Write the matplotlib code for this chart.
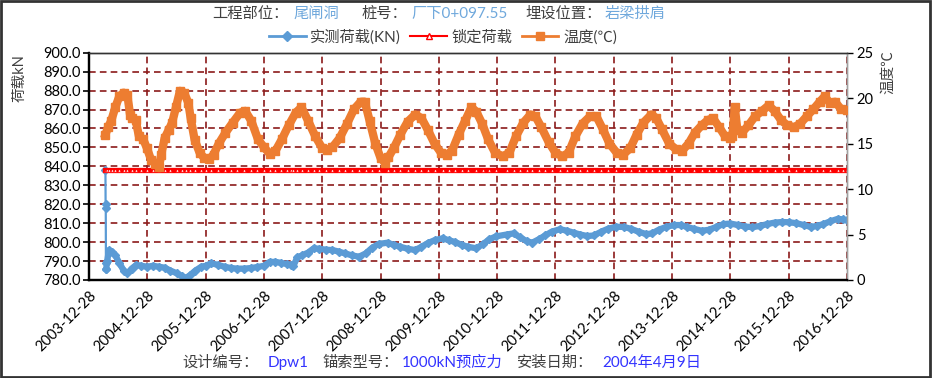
import matplotlib
matplotlib.use("Agg")
import matplotlib.pyplot as plt
import matplotlib.dates as mdates
from matplotlib.lines import Line2D
from matplotlib.patches import Rectangle
from matplotlib.ticker import FormatStrFormatter, MultipleLocator
import numpy as np
import pandas as pd

# measured load (kN)
load_dates = [
    "2004-04-09", "2004-04-10", "2004-04-11", "2004-04-12", "2004-04-14", "2004-04-20",
    "2004-05-01", "2004-05-20", "2004-06-10", "2004-07-05", "2004-08-01", "2004-08-25",
    "2004-09-20", "2004-10-20", "2004-11-20", "2004-12-28", "2005-02-01", "2005-03-10",
    "2005-04-15", "2005-05-20", "2005-07-01", "2005-08-01", "2005-08-25", "2005-09-20",
    "2005-10-25", "2005-12-01", "2005-12-28", "2006-02-01", "2006-03-15", "2006-04-25",
    "2006-06-05", "2006-07-15", "2006-08-25", "2006-10-05", "2006-11-15", "2006-12-28",
    "2007-02-01", "2007-03-10", "2007-04-15", "2007-05-20", "2007-06-15", "2007-07-01",
    "2007-07-25", "2007-08-25", "2007-10-01", "2007-11-05", "2007-12-10", "2008-01-20",
    "2008-03-01", "2008-04-10", "2008-05-20", "2008-07-01", "2008-08-15", "2008-09-25",
    "2008-11-05", "2008-12-15", "2009-02-10", "2009-03-20", "2009-05-01", "2009-06-15",
    "2009-08-01", "2009-09-10", "2009-10-20", "2009-12-01", "2010-01-20", "2010-03-01",
    "2010-04-10", "2010-05-20", "2010-07-01", "2010-08-20", "2010-10-01", "2010-11-10",
    "2010-12-20", "2011-02-25", "2011-04-10", "2011-05-20", "2011-07-01", "2011-08-05",
    "2011-09-15", "2011-10-25", "2011-12-05", "2012-01-25", "2012-03-10", "2012-04-20",
    "2012-06-01", "2012-07-15", "2012-08-25", "2012-10-10", "2012-11-20", "2013-01-10",
    "2013-03-01", "2013-04-15", "2013-06-01", "2013-07-20", "2013-08-25", "2013-10-05",
    "2013-11-20", "2014-01-10", "2014-02-20", "2014-04-01", "2014-05-15", "2014-07-01",
    "2014-08-15", "2014-10-01", "2014-11-15", "2014-12-28", "2015-02-15", "2015-04-01",
    "2015-05-15", "2015-07-01", "2015-08-15", "2015-10-01", "2015-11-15", "2015-12-28",
    "2016-02-15", "2016-04-01", "2016-05-15", "2016-06-20", "2016-08-01", "2016-09-15",
    "2016-11-01", "2016-12-01", "2016-12-28",
]
load_kn = [
    838, 820, 818, 789, 786, 790,
    795.8, 795, 793, 789, 785, 783.5,
    786, 788, 787.5, 787, 787.5, 787,
    786.5, 785, 783.5, 782, 781, 782.5,
    785, 787, 787.5, 788.8, 788, 787,
    786.3, 786, 786, 786.3, 786.8, 787.5,
    789.5, 789.6, 789, 788.5, 788, 787.5,
    792, 793, 794.5, 796.7, 796.5, 796,
    795.8, 795, 794, 793, 792.3, 794,
    797, 799, 799.7, 798.5, 797.5, 796.5,
    795.8, 797.5, 799.5, 801, 802, 801,
    800, 798.5, 797.5, 796.7, 799, 801.5,
    803, 804, 804.6, 802.5, 800.5, 799.7,
    801.5, 803.5, 805.5, 806.8, 806, 805,
    804, 803.2, 803.5, 805.5, 807, 808.1,
    808, 807, 805.5, 804.2, 804.6, 806.5,
    808, 809, 809, 808, 807, 806,
    806.5, 808, 809.5, 809.8, 809, 808.2,
    807.9, 808.5, 809.5, 810.3, 810.6, 810.5,
    810, 809, 808, 808.5, 809.5, 811,
    812.3, 812, 811.5,
]
lock_kn = 838.0

# temperature (°C)
temp_dates = [
    "2004-04-09", "2004-04-25", "2004-05-15", "2004-06-10", "2004-07-05", "2004-08-01",
    "2004-08-25", "2004-09-10", "2004-09-25", "2004-10-15", "2004-11-05", "2004-12-01",
    "2004-12-25", "2005-01-20", "2005-02-15", "2005-03-10", "2005-03-25", "2005-04-15",
    "2005-05-10", "2005-06-01", "2005-06-25", "2005-07-20", "2005-08-15", "2005-09-10",
    "2005-09-25", "2005-10-20", "2005-11-20", "2005-12-20", "2006-01-20", "2006-02-15",
    "2006-03-20", "2006-05-01", "2006-06-15", "2006-08-01", "2006-09-01", "2006-10-10",
    "2006-11-20", "2006-12-28", "2007-02-01", "2007-03-10", "2007-04-20", "2007-06-01",
    "2007-07-15", "2007-08-20", "2007-10-01", "2007-11-15", "2007-12-28", "2008-01-25",
    "2008-03-01", "2008-04-15", "2008-06-01", "2008-07-15", "2008-08-25", "2008-09-20",
    "2008-10-20", "2008-11-25", "2008-12-28", "2009-01-25", "2009-02-15", "2009-03-20",
    "2009-05-01", "2009-06-15", "2009-08-01", "2009-09-10", "2009-10-20", "2009-12-01",
    "2010-01-10", "2010-02-15", "2010-03-20", "2010-05-01", "2010-06-10", "2010-07-20",
    "2010-08-20", "2010-09-25", "2010-11-01", "2010-12-15", "2011-02-01", "2011-03-15",
    "2011-04-25", "2011-06-10", "2011-07-25", "2011-08-25", "2011-10-01", "2011-11-15",
    "2011-12-28", "2012-02-10", "2012-03-20", "2012-05-01", "2012-06-15", "2012-08-01",
    "2012-09-10", "2012-10-20", "2012-12-01", "2013-01-15", "2013-02-25", "2013-04-10",
    "2013-05-20", "2013-07-01", "2013-08-20", "2013-09-20", "2013-10-25", "2013-12-10",
    "2014-01-20", "2014-02-28", "2014-04-10", "2014-05-20", "2014-07-01", "2014-08-10",
    "2014-09-10", "2014-10-20", "2014-11-25", "2014-12-28", "2015-01-10", "2015-01-25",
    "2015-02-10", "2015-03-10", "2015-04-20", "2015-06-01", "2015-07-15", "2015-08-25",
    "2015-10-01", "2015-11-10", "2015-12-20", "2016-02-01", "2016-03-10", "2016-04-20",
    "2016-06-01", "2016-07-10", "2016-08-10", "2016-09-10", "2016-10-15", "2016-11-20",
    "2016-12-28",
]
temp_c = [
    16.0, 16.8, 17.5, 19.0, 20.2, 20.6,
    20.3, 18.2, 17.8, 17.6, 15.8, 15.5,
    14.5, 13.2, 12.8, 12.4, 13.8, 15.6,
    16.5, 17.3, 19.0, 20.8, 20.6, 19.5,
    17.8, 15.4, 14.0, 13.4, 13.3, 13.8,
    15.0, 16.2, 17.3, 18.4, 18.6, 17.5,
    15.5, 14.6, 13.9, 14.2, 15.5, 17.0,
    18.4, 19.0, 17.5, 15.8, 14.5, 14.3,
    14.6, 15.6, 17.2, 18.8, 19.6, 19.6,
    17.5, 15.0, 13.4, 12.9, 13.5, 14.5,
    16.0, 17.4, 18.2, 17.8, 16.5, 15.0,
    14.0, 13.8, 14.2, 16.0, 17.5, 19.0,
    18.5, 17.2, 15.5, 14.0, 13.6, 14.0,
    15.8, 17.3, 18.2, 18.0, 16.8, 15.2,
    14.0, 13.6, 14.0, 15.8, 17.2, 18.0,
    18.0, 16.6, 15.0, 14.0, 13.8, 14.5,
    16.0, 17.3, 18.2, 17.8, 16.6, 15.0,
    14.4, 14.2, 15.0, 16.2, 17.0, 17.6,
    17.8, 16.8, 15.8, 15.6, 15.8, 19.0,
    16.5, 16.2, 17.0, 18.0, 18.6, 19.2,
    18.6, 17.6, 17.0, 16.8, 17.2, 18.0,
    18.8, 19.6, 20.2, 19.5, 19.6, 18.8,
    18.7,
]

year_ticks = ["2003-12-28", "2004-12-28", "2005-12-28", "2006-12-28", "2007-12-28",
              "2008-12-28", "2009-12-28", "2010-12-28", "2011-12-28", "2012-12-28",
              "2013-12-28", "2014-12-28", "2015-12-28", "2016-12-28"]

BLUE = "#5B9BD5"
ORANGE = "#ED7D31"
RED = "#FF0000"
GRID = "#8B1A1A"
TXT = "#404040"
LIGHT = "#6FA8DC"
VIVID = "#3333FF"
plt.rcParams["font.family"] = ["Lato", "Noto Sans CJK SC", "DejaVu Sans"]

ld = pd.to_datetime(load_dates)
td = pd.to_datetime(temp_dates)
ticks = pd.to_datetime(year_ticks)

fig = plt.figure(figsize=(9.32, 3.78), dpi=100)
ax = fig.add_axes([0.0955, 0.2593, 0.8133, 0.6013])
ax2 = ax.twinx()

# the first few readings (sparse, right after locking) draw as a thin line
n0 = 5
ax.plot(ld[:n0], load_kn[:n0], color=BLUE, lw=1.6, marker="D", ms=4.5, mec=BLUE,
        mfc=BLUE, zorder=3)
ax.plot(ld[n0 - 1:], load_kn[n0 - 1:], color=BLUE, lw=4.5, marker="D", ms=4.5,
        mec=BLUE, mfc=BLUE, solid_joinstyle="round", zorder=3)
ax.plot(ld, np.full(len(ld), lock_kn), color=RED, lw=3.8, marker="^", ms=2.5,
        mec=RED, mfc="white", mew=0.6, zorder=3)
ax2.plot(td, temp_c, color=ORANGE, lw=6, marker="s", ms=6, mec=ORANGE, mfc=ORANGE,
         solid_joinstyle="round", zorder=3)

ax.set_xlim(ticks[0], ticks[-1])
ax.set_ylim(780, 900)
ax.yaxis.set_major_locator(MultipleLocator(10))
ax.yaxis.set_major_formatter(FormatStrFormatter("%.1f"))
ax2.set_ylim(0, 25)
ax2.yaxis.set_major_locator(MultipleLocator(5))

ax.set_xticks(ticks)
ax.xaxis.set_major_formatter(mdates.DateFormatter("%Y-%m-%d"))
plt.setp(ax.get_xticklabels(), rotation=45, ha="right", rotation_mode="anchor")

ax.grid(True, color=GRID, ls=(0, (4, 2.5)), lw=1.2, zorder=0)
ax.set_axisbelow(True)

ax.tick_params(axis="y", labelsize=10.5, length=4, width=1.2, colors="black", pad=2)
ax.tick_params(axis="x", labelsize=10.5, length=0, pad=6, colors="black")
ax2.tick_params(axis="y", labelsize=10.5, length=4, width=1, colors="black", pad=3)

for a in (ax, ax2):
    a.spines["left"].set_linewidth(1.6)
    a.spines["left"].set_color("black")
    a.spines["bottom"].set_linewidth(1.6)
    a.spines["bottom"].set_color("black")
    a.spines["top"].set_color("#333333")
    a.spines["top"].set_linewidth(1.0)
    a.spines["right"].set_color("#A0A0A0")
    a.spines["right"].set_linewidth(1.0)

# axis titles
fig.text(20 / 932, 1 - 78 / 378, "荷载kN", rotation=90, ha="center", va="center",
         fontsize=10.5, color=TXT)
fig.text(888 / 932, 1 - 72 / 378, "温度℃", rotation=90, ha="center", va="center",
         fontsize=10.5, color=TXT)

# header line
header = [(212, "工程部位：", TXT), (293, "尾闸洞", LIGHT), (362, "桩号：", TXT),
          (411, "厂下0+097.55", LIGHT), (525, "埋设位置：", TXT), (605, "岩梁拱肩", LIGHT)]
for x, s, c in header:
    fig.text(x / 932, 1 - 14 / 378, s, ha="left", va="center", fontsize=11, color=c)

# footer line
footer = [(182, "设计编号：", TXT), (268, "Dpw1", VIVID), (322, "锚索型号：", TXT),
          (402, "1000kN预应力", VIVID), (517, "安装日期：", TXT), (602, "2004年4月9日", VIVID)]
for x, s, c in footer:
    fig.text(x / 932, 1 - 363 / 378, s, ha="left", va="center", fontsize=11, color=c)

# legend
handles = [
    Line2D([], [], color=BLUE, lw=2, marker="D", ms=5),
    Line2D([], [], color=RED, lw=1.5, marker="^", ms=4, mfc="white", mec=RED),
    Line2D([], [], color=ORANGE, lw=2, marker="s", ms=6),
]
fig.legend(handles, ["实测荷载(KN)", "锁定荷载", "温度(℃)"], loc="center",
           bbox_to_anchor=(443 / 932, 1 - 37 / 378), ncol=3, frameon=False,
           fontsize=11, handlelength=2.4, handletextpad=0.3, columnspacing=0.6,
           labelcolor=TXT)

# outer frame
fig.patches.append(Rectangle((0.001, 0.002), 0.997, 0.995, transform=fig.transFigure,
                             fill=False, edgecolor="#333333", lw=2))

fig.savefig("out.png", dpi=100)
